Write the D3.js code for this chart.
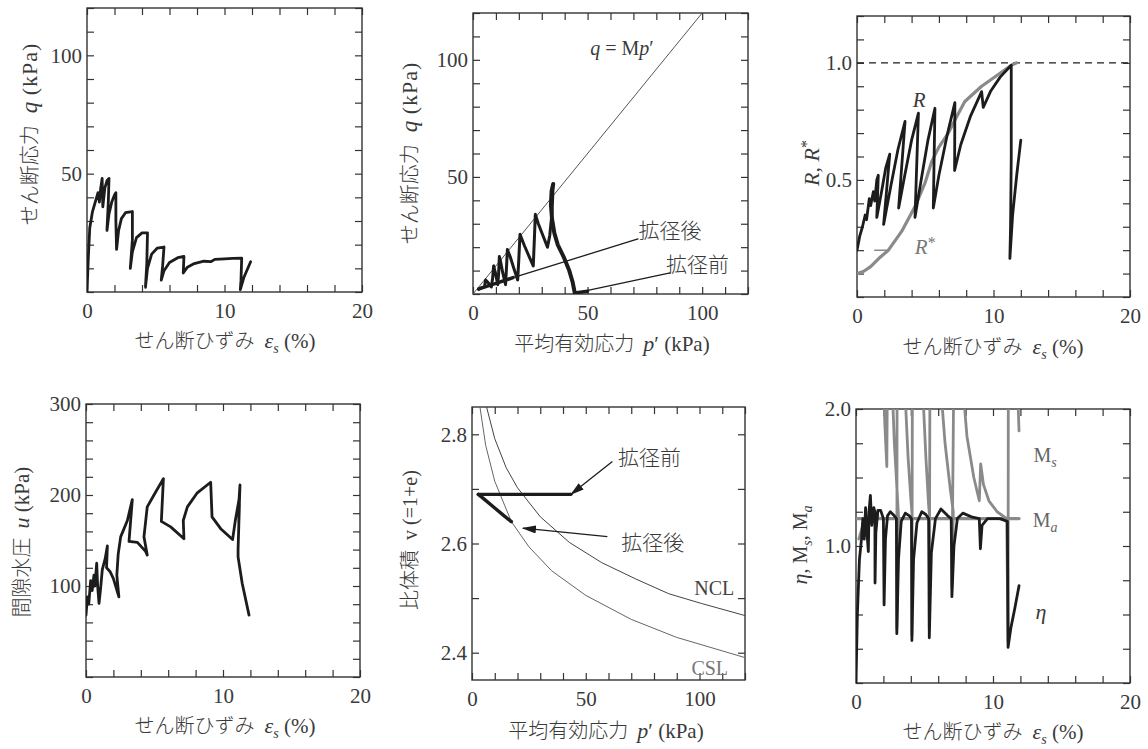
<!DOCTYPE html>
<html>
<head>
<meta charset="utf-8">
<script src="https://cdn.jsdelivr.net/npm/d3@7"></script>
<style>
  body { margin: 0; background: #fff; }
  svg { display: block; }
</style>
</head>
<body>
<svg id="chart" width="1148" height="749"></svg>
<script>
// ---- データ ----
// せん断応力 q - せん断ひずみ
let qCurve = [[0,0],[0.1,15],[0.2,27],[0.4,34],[0.6,38],[0.8,42],[0.9,38],[1.0,44],[1.1,48],[1.15,36],
  [1.3,44],[1.45,47],[1.6,48],[1.55,38],[1.45,26],[1.6,33],[1.8,38],[2.0,41],[2.1,42],[2.1,30],[2.15,18],
  [2.3,26],[2.5,31],[2.8,33.5],[3.3,34],[3.3,22],[3.15,10],[3.3,17],[3.6,23],[4.0,25],[4.4,25],[4.35,12],
  [4.25,2],[4.4,10],[4.7,16],[5.1,18.5],[5.6,19],[5.5,11],[5.4,5],[5.6,9],[6.0,12.5],[6.6,14.5],[7.05,15],
  [7.0,8],[7.3,10.5],[7.8,12],[8.5,13],[9.0,12.8],[9.3,13.8],[10.0,14],[10.6,14.2],[11.25,14.3],[11.2,5],
  [11.15,1],[11.4,6],[11.9,12.8]];

// 有効応力経路 p' - q
let pqFirst = [[44.5,0],[43.5,5],[42,10],[39.5,16],[37,21],[35.5,26],[34.5,32],[34,38],[34.3,44],[35,47]];
let pqPath = [[35,47],[34.5,35],[33.5,25],[32.5,20],[30.5,25],[28.5,30],[27.2,34],[26.8,24],[26.3,12],
  [24.5,16],[22.5,20.5],[20.5,25.5],[20,15],[19.5,6],[17.8,11],[16.2,16],[15,19],[14.6,11],[14.2,4],[13,9],
  [12,14],[11.5,16],[11.2,9],[10.8,4],[9.8,9],[9,12],[8.6,7],[8,3],[6.5,5],[5.5,6],[5,3],[3.5,2.5],[2.5,2]];
let pqAfter = [[2.5,2.2],[10,4.5],[17.5,7]];
let mLine = [[0,0],[100,120]];
let pqNoteAfter = [[17.5,7],[72,23.5]];
let pqNoteBefore = [[45,0.5],[86,9]];

// R, R*
let rCurve = [[0,0.2],[0.2,0.26],[0.4,0.3],[0.6,0.35],[0.7,0.33],[0.9,0.42],[1.0,0.39],[1.2,0.45],[1.3,0.41],
  [1.45,0.5],[1.56,0.52],[1.45,0.34],[1.8,0.45],[2.1,0.55],[2.4,0.61],[1.95,0.31],[2.5,0.48],[3.0,0.63],
  [3.52,0.75],[3.05,0.38],[3.5,0.52],[4.0,0.67],[4.5,0.785],[4.25,0.34],[4.7,0.5],[5.2,0.67],[5.71,0.806],
  [5.59,0.38],[6.0,0.52],[6.6,0.69],[7.17,0.83],[7.15,0.54],[7.6,0.65],[8.3,0.77],[9.13,0.877],[9.25,0.81],
  [9.8,0.88],[10.5,0.94],[11.3,0.99],[11.3,0.6],[11.25,0.3],[11.2,0.165],[11.4,0.35],[11.7,0.52],[12.0,0.67]];
let rStarCurve = [[0,0.1],[0.5,0.11],[1.0,0.13],[1.7,0.17],[2.3,0.2],[3.27,0.28],[4.25,0.386],[5.0,0.49],
  [5.47,0.578],[6.0,0.64],[6.69,0.70],[7.3,0.77],[7.9,0.835],[9.13,0.90],[10.35,0.95],[11.3,0.99],[11.7,1.0]];
let rStarDash = [[1.3,0.2],[2.3,0.2]];
let rOne = [[0,1],[20,1]];

// 間隙水圧 u
let uCurve = [[0,68],[0.1,88],[0.2,80],[0.34,106],[0.45,95],[0.58,112],[0.65,100],[0.78,125],[0.85,100],
  [0.95,81],[1.05,95],[1.19,118],[1.4,130],[1.56,144],[1.5,120],[1.75,116],[2.0,108],[2.4,88],[2.25,112],
  [2.35,135],[2.53,154],[3.02,172],[3.38,195],[3.14,149],[3.75,148],[4.35,138],[4.47,134],[4.23,154],
  [4.47,187],[4.96,200],[5.65,218],[5.5,171],[6.18,165],[7.15,152],[7.1,172],[7.4,187],[8.1,202],[9.1,214],
  [9.2,176],[9.83,163],[10.7,151],[10.9,172],[11.17,195],[11.24,211],[11.15,170],[11.2,190],[11.1,140],
  [11.1,132],[11.4,103],[11.9,68]];

// 比体積 v - p'
let vBefore = [[2.8,2.69],[43.5,2.69]];
let vAfter = [[2.8,2.69],[6,2.679],[10,2.665],[14,2.651],[17.3,2.64]];
let nclCurve = [[6.4,2.85],[10,2.792],[15,2.739],[20,2.702],[30,2.649],[42.8,2.602],[57,2.565],[72,2.535],
  [86.5,2.508],[101,2.49],[120,2.468]];
let cslCurve = [[3.5,2.85],[6,2.78],[10,2.714],[17.3,2.64],[25,2.594],[35,2.55],[50,2.505],[70,2.461],
  [90,2.428],[120,2.391]];
let vNoteBefore = [[61.7,2.75],[43.5,2.69]];
let vNoteAfter = [[59.5,2.6125],[22.4,2.628]];

// η, Ms, Ma
let etaCurve = [[0,0],[0.1,0.5],[0.25,0.9],[0.4,1.05],[0.5,1.2],[0.6,1.05],[0.7,1.28],[0.8,1.1],[0.9,0.96],
  [0.95,1.25],[1.05,1.37],[1.15,1.15],[1.3,1.28],[1.38,1.25],[1.39,0.73],[1.45,1.1],[1.6,1.26],[1.8,1.26],
  [2.0,1.2],[2.05,0.57],[2.15,1.05],[2.3,1.22],[2.5,1.25],[2.8,1.22],[2.95,1.2],[2.98,0.36],[3.1,0.9],
  [3.3,1.18],[3.6,1.24],[3.9,1.22],[4.05,1.2],[4.08,0.31],[4.2,0.9],[4.45,1.17],[4.8,1.25],[5.1,1.23],
  [5.3,1.2],[5.35,0.33],[5.5,0.95],[5.8,1.2],[6.2,1.27],[6.7,1.22],[6.95,1.2],[7.0,0.63],[7.15,1.0],
  [7.4,1.2],[7.8,1.24],[8.5,1.21],[9.0,1.2],[9.08,0.98],[9.2,1.15],[9.6,1.2],[10.5,1.2],[11.05,1.18],
  [11.1,0.26],[11.3,0.4],[11.6,0.55],[11.9,0.71]];
let msSegments = [
  [[0.2,1.05],[0.5,1.15],[0.9,1.2],[1.3,1.2],[1.6,1.22]],
  [[1.95,2.4],[2.1,1.9],[2.25,1.58],[2.3,2.4]],
  [[2.55,2.4],[2.8,1.75],[3.0,1.4],[3.1,1.22],[2.98,0.4],[3.0,2.4]],
  [[3.45,2.4],[3.8,1.65],[4.0,1.35],[4.1,1.22],[4.08,0.35],[4.12,2.4]],
  [[4.75,2.4],[5.1,1.65],[5.3,1.3],[5.38,1.2],[5.35,0.4],[5.4,2.4]],
  [[6.0,2.4],[6.5,1.75],[6.9,1.4],[7.1,1.25],[7.0,0.7],[7.15,2.4]],
  [[7.6,2.4],[8.1,1.8],[8.6,1.5],[9.0,1.33],[9.1,1.6],[9.3,1.45],[9.7,1.33],[10.3,1.25],[11.0,1.2],
    [11.1,0.3],[11.12,2.4]],
  [[11.7,2.4],[11.9,1.84]]
];
let maLine = [[0,1.2],[11.9,1.2]];

// 目盛
let strainTicks = d3.range(0, 20.01, 2);
let strainLabels = [0, 10, 20];
let stressTicks = d3.range(0, 120.01, 10);
let stressLabels = [50, 100];
let pTicks = d3.range(0, 120.01, 10);
let pLabels = [0, 50, 100];
let rTicks = d3.range(0, 1.201, 0.1);
let rLabels = [0.5, 1.0];
let uTicks = d3.range(0, 300.01, 20);
let uLabels = [100, 200, 300];
let vTicks = [2.4, 2.5, 2.6, 2.7, 2.8];
let vLabels = [2.4, 2.6, 2.8];
let etaTicks = d3.range(0, 2.001, 0.25);
let etaLabels = [1.0, 2.0];

// ---- 描画 ----
let svg = d3.select("#chart");
let defs = svg.append("defs");
let serif = "'Liberation Serif', 'DejaVu Serif', serif";
let cjk = "'Noto Sans CJK JP', sans-serif";
let ink = "#1c1c1c";
let grey = "#8a8a8a";
let textInk = "#3a3a3a";

defs.append("marker")
  .attr("id", "arrow")
  .attr("markerUnits", "userSpaceOnUse")
  .attr("markerWidth", 14).attr("markerHeight", 8)
  .attr("refX", 13).attr("refY", 4)
  .attr("orient", "auto")
  .append("path")
  .attr("d", "M0,0 L14,4 L0,8 Z")
  .attr("fill", ink);

let line = (x, y) => d3.line().x(d => x(d[0])).y(d => y(d[1]));

// パネル（枠・目盛・ラベル）
let makePanel = (cfg) => {
  let g = svg.append("g").attr("transform", `translate(${cfg.left},${cfg.top})`);
  let x = d3.scaleLinear().domain(cfg.xDomain).range([0, cfg.w]);
  let y = d3.scaleLinear().domain(cfg.yDomain).range([cfg.h, 0]);

  defs.append("clipPath").attr("id", "clip-" + cfg.name)
    .append("rect").attr("width", cfg.w).attr("height", cfg.h);

  // 内向きの目盛（四辺）
  let tk = 7;
  let axes = [
    [d3.axisBottom(x).tickValues(cfg.xTicks), `translate(0,${cfg.h})`],
    [d3.axisTop(x).tickValues(cfg.xTicks), "translate(0,0)"],
    [d3.axisLeft(y).tickValues(cfg.yTicks), "translate(0,0)"],
    [d3.axisRight(y).tickValues(cfg.yTicks), `translate(${cfg.w},0)`]
  ];
  axes.forEach(([ax, tr]) => {
    let a = g.append("g").attr("transform", tr)
      .call(ax.tickSize(-tk).tickFormat(""));
    a.select(".domain").remove();
    a.selectAll("line").attr("stroke", "#333").attr("stroke-width", 1.2);
  });

  // 数値ラベル
  let xl = g.append("g").attr("transform", `translate(0,${cfg.h})`)
    .call(d3.axisBottom(x).tickValues(cfg.xLabels).tickSize(0).tickPadding(11).tickFormat(cfg.xFmt || d3.format("d")));
  let yl = g.append("g")
    .call(d3.axisLeft(y).tickValues(cfg.yLabels).tickSize(0).tickPadding(5).tickFormat(cfg.yFmt || d3.format("d")));
  [xl, yl].forEach(a => {
    a.select(".domain").remove();
    a.attr("font-family", serif).attr("font-size", 21);
    a.selectAll("text").attr("font-family", serif).attr("font-size", 21).attr("fill", textInk);
  });

  // 枠
  g.append("rect").attr("width", cfg.w).attr("height", cfg.h)
    .attr("fill", "none").attr("stroke", "#333").attr("stroke-width", 1.4);

  let plot = g.append("g").attr("clip-path", `url(#clip-${cfg.name})`);
  return { g, plot, x, y };
};

// 複合テキスト（和文＋欧文）
let rich = (parent, x, y, parts, rotate) => {
  let t = parent.append("text")
    .attr("text-anchor", "middle")
    .attr("fill", textInk);
  if (rotate) t.attr("transform", `translate(${x},${y}) rotate(-90)`);
  else t.attr("x", x).attr("y", y);
  parts.forEach(p => {
    let s = t.append("tspan").text(p.t)
      .attr("font-family", p.cjk ? cjk : serif)
      .attr("font-size", p.size || 20);
    if (p.cjk) s.attr("font-weight", 300);
    if (p.it) s.attr("font-style", "italic");
    if (p.dy) s.attr("dy", p.dy);
    if (p.dx) s.attr("dx", p.dx);
    if (p.ls) s.attr("letter-spacing", p.ls);
  });
  return t;
};

let strainTitle = [
  { t: "せん断ひずみ", cjk: true, size: 20 },
  { t: "ε", it: true, size: 22, dx: 10 },
  { t: "s", it: true, size: 14, dy: 5 },
  { t: " (%)", size: 21, dy: -5 }
];
let pTitle = [
  { t: "平均有効応力", cjk: true, size: 20 },
  { t: "p", it: true, size: 22, dx: 9 },
  { t: "′ (kPa)", size: 21 }
];
let qTitle = [
  { t: "せん断応力", cjk: true, size: 20 },
  { t: "q", it: true, size: 23, dx: 12 },
  { t: " (kPa)", size: 22, ls: 1 }
];

let drawPath = (p, pts, color, width) => p.plot.append("path")
  .datum(pts)
  .attr("d", line(p.x, p.y))
  .attr("fill", "none")
  .attr("stroke", color)
  .attr("stroke-width", width)
  .attr("stroke-linejoin", "round")
  .attr("stroke-linecap", "round");

// ---- (1) q - εs ----
let p1 = makePanel({ name: "a", left: 87, top: 8, w: 275, h: 284,
  xDomain: [0, 20], yDomain: [0, 120], xTicks: strainTicks, yTicks: stressTicks,
  xLabels: strainLabels, yLabels: stressLabels });
drawPath(p1, qCurve, ink, 2.8);
rich(svg, 225, 348, strainTitle);
rich(svg, 37, 134, qTitle, true);

// ---- (2) p' - q ----
let p2 = makePanel({ name: "b", left: 473, top: 13, w: 275, h: 281,
  xDomain: [0, 120], yDomain: [0, 120], xTicks: pTicks, yTicks: stressTicks,
  xLabels: pLabels, yLabels: stressLabels });
drawPath(p2, mLine, "#555", 1);
drawPath(p2, pqNoteAfter, ink, 1.3);
drawPath(p2, pqNoteBefore, ink, 1.3);
drawPath(p2, pqPath, ink, 3);
drawPath(p2, pqFirst, ink, 4);
drawPath(p2, pqAfter, ink, 3.4);
drawPath(p2, [[44.5,0.5],[50,1.2]], ink, 3.4);
rich(p2.g, p2.x(65), p2.y(102), [
  { t: "q", it: true, size: 20 }, { t: " = M", size: 20 }, { t: "p", it: true, size: 20 }, { t: "′", size: 20 }]);
rich(p2.g, p2.x(86), p2.y(24), [{ t: "拡径後", cjk: true, size: 21 }]);
rich(p2.g, p2.x(98), p2.y(9.3), [{ t: "拡径前", cjk: true, size: 21 }]);
rich(svg, 612, 351, pTitle);
rich(svg, 417, 153, qTitle, true);

// ---- (3) R, R* ----
let p3 = makePanel({ name: "c", left: 857, top: 16, w: 273, h: 281,
  xDomain: [0, 20], yDomain: [0, 1.2], xTicks: strainTicks, yTicks: rTicks,
  xLabels: strainLabels, yLabels: rLabels, yFmt: d3.format(".1f") });
p3.plot.append("path").datum(rOne)
  .attr("d", line(p3.x, p3.y))
  .attr("stroke", ink).attr("stroke-width", 1.2).attr("stroke-dasharray", "7,5").attr("fill", "none");
drawPath(p3, rStarCurve, grey, 3.2);
drawPath(p3, rStarDash, grey, 1.5);
drawPath(p3, rCurve, ink, 2.8);
rich(p3.g, p3.x(4.55), p3.y(0.81), [{ t: "R", it: true, size: 21 }]);
rich(p3.g, p3.x(5.0), p3.y(0.185), [{ t: "R", it: true, size: 21 }, { t: "*", size: 16, dy: -6 }])
  .attr("fill", "#777");
rich(svg, 993, 354, strainTitle);
rich(svg, 819, 163, [
  { t: "R", it: true, size: 22 }, { t: ", ", size: 22 },
  { t: "R", it: true, size: 22 }, { t: "*", size: 16, dy: -7 }], true);

// ---- (4) u - εs ----
let p4 = makePanel({ name: "d", left: 86, top: 404, w: 274, h: 273,
  xDomain: [0, 20], yDomain: [0, 300], xTicks: strainTicks, yTicks: uTicks,
  xLabels: strainLabels, yLabels: uLabels });
drawPath(p4, uCurve, ink, 2.8);
rich(svg, 225, 733, strainTitle);
rich(svg, 29, 542, [
  { t: "間隙水圧", cjk: true, size: 20 },
  { t: "u", it: true, size: 22, dx: 9 },
  { t: " (kPa)", size: 21 }], true);

// ---- (5) v - p' ----
let p5 = makePanel({ name: "e", left: 472, top: 407, w: 273, h: 273,
  xDomain: [0, 120], yDomain: [2.35, 2.85], xTicks: pTicks, yTicks: vTicks,
  xLabels: pLabels, yLabels: vLabels, yFmt: d3.format(".1f") });
drawPath(p5, nclCurve, "#444", 1);
drawPath(p5, cslCurve, "#666", 1);
drawPath(p5, vBefore, ink, 3.4);
drawPath(p5, vAfter, ink, 3.4);
p5.g.selectAll(".note").data([vNoteBefore, vNoteAfter]).join("path")
  .attr("class", "note")
  .attr("d", line(p5.x, p5.y))
  .attr("stroke", ink).attr("stroke-width", 1.3).attr("fill", "none")
  .attr("marker-end", "url(#arrow)");
rich(p5.g, p5.x(78), p5.y(2.744), [{ t: "拡径前", cjk: true, size: 21 }]);
rich(p5.g, p5.x(79.5), p5.y(2.589), [{ t: "拡径後", cjk: true, size: 21 }]);
rich(p5.g, p5.x(106.5), p5.y(2.505), [{ t: "NCL", size: 20 }]).attr("fill", "#444");
rich(p5.g, p5.x(104.5), p5.y(2.36), [{ t: "CSL", size: 20 }]).attr("fill", "#777");
rich(svg, 606, 738, pTitle);
rich(svg, 417, 540, [
  { t: "比体積", cjk: true, size: 20 },
  { t: "v", size: 20, dx: 10 },
  { t: " (=1+e)", size: 20 }], true);

// ---- (6) η, Ms, Ma ----
let p6 = makePanel({ name: "f", left: 856, top: 409, w: 274, h: 274,
  xDomain: [0, 20], yDomain: [0, 2], xTicks: strainTicks, yTicks: etaTicks,
  xLabels: strainLabels, yLabels: etaLabels, yFmt: d3.format(".1f") });
msSegments.forEach(s => drawPath(p6, s, grey, 2.8));
drawPath(p6, maLine, grey, 3.2);
drawPath(p6, etaCurve, ink, 2.8);
rich(p6.g, p6.x(13.8), p6.y(1.61), [{ t: "M", size: 20 }, { t: "s", it: true, size: 14, dy: 5 }]).attr("fill", "#666");
rich(p6.g, p6.x(13.8), p6.y(1.14), [{ t: "M", size: 20 }, { t: "a", it: true, size: 14, dy: 5 }]).attr("fill", "#666");
rich(p6.g, p6.x(13.5), p6.y(0.47), [{ t: "η", it: true, size: 22 }]);
rich(svg, 993, 739, strainTitle);
rich(svg, 807, 545, [
  { t: "η", it: true, size: 22 }, { t: ", M", size: 20 },
  { t: "s", it: true, size: 14, dy: 5 }, { t: ", M", size: 20, dy: -5 },
  { t: "a", it: true, size: 14, dy: 5 }], true);
</script>
</body>
</html>
